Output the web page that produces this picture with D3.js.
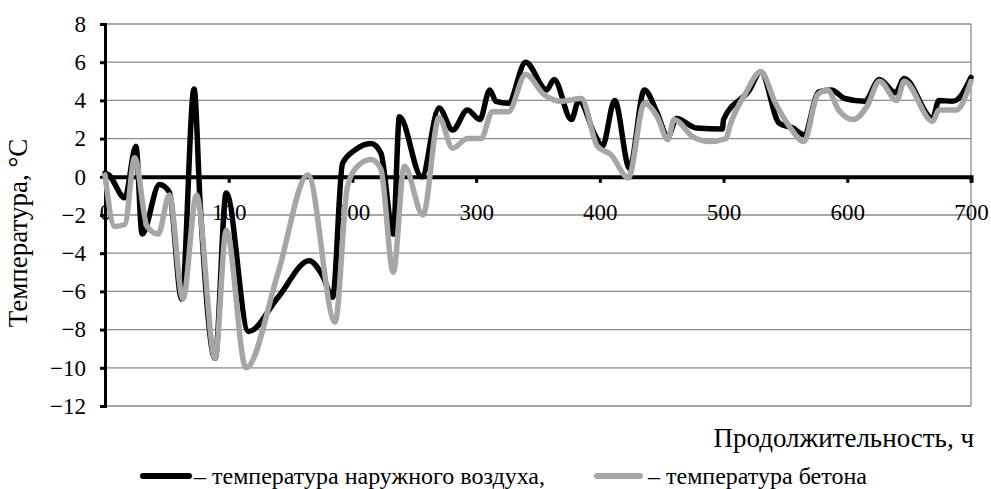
<!DOCTYPE html>
<html><head><meta charset="utf-8">
<script src="https://cdn.jsdelivr.net/npm/d3@7"></script>
<style>html,body{margin:0;padding:0;background:#fff;}svg{display:block;}</style>
</head><body>
<svg id="c" width="991" height="489"></svg>
<script>
// Data (hours, °C)
const hoursAir = [0,3,16,25,30,44,52,62,72,77,89,98,116,140,165,176,184,192,202,215,223,233,238,256,270,281,293,303,311,316,326,340,357,363,377,383,396,402,412,424,436,446,455,462,478,499,500,521,530,545,556,565,577,587,598,614,626,639,646,669,674,685,690,700];
const tempAir  = [0.2,0.1,-1.1,1.6,-3.0,-0.4,-0.8,-6.4,4.6,-1.5,-9.5,-0.85,-8.1,-6.3,-4.4,-5.2,-6.3,0.7,1.4,1.75,1.25,-3.0,3.15,0.0,3.6,2.45,3.5,3.0,4.55,3.95,3.85,6.0,4.55,5.1,3.0,4.0,2.2,1.6,4.0,0.45,4.55,3.4,2.1,3.05,2.55,2.5,3.0,4.55,5.5,2.8,2.55,2.2,4.45,4.55,4.1,3.95,5.1,4.4,5.15,3.05,4.0,3.95,4.1,5.2];
const hoursConcrete = [0,8,16,24,34,43,52,63,74,89,98,114,140,164,186,196,205,215,223,233,242,257,270,281,293,304,313,326,340,355,369,385,398,409,423,436,446,455,460,475,488,502,505,518,530,542,553,565,576,584,593,605,616,626,640,646,669,674,688,700];
const tempConcrete  = [0.1,-2.6,-2.5,1.0,-2.6,-3.0,-0.95,-6.4,-0.95,-9.5,-2.8,-10.0,-5.0,0.1,-7.6,-0.5,0.6,0.9,0.4,-5.0,0.55,-2.0,3.1,1.5,2.0,2.0,3.4,3.4,5.35,4.3,3.95,4.1,1.6,1.15,-0.05,3.85,3.2,1.95,3.0,2.1,1.85,2.0,2.65,4.4,5.5,3.85,2.65,1.85,4.3,4.55,3.5,3.0,3.7,5.0,4.0,5.0,2.9,3.5,3.5,5.0];
const xTicks = [0,100,200,300,400,500,600,700];
const yTicks = [-12,-10,-8,-6,-4,-2,0,2,4,6,8];
const yTitle = "Температура, °С";
const xTitle = "Продолжительность, ч";
const legendAir = "– температура наружного воздуха,";
const legendConcrete = "– температура бетона";

const FONT = "'Liberation Serif','Times New Roman',serif";
const svg = d3.select("#c");
const x = d3.scaleLinear().domain([0,700]).range([105,971]);
const y = d3.scaleLinear().domain([-12,8]).range([406,24]);

// gridlines
svg.append("g").selectAll("line").data(yTicks.filter(d=>d!==0)).join("line")
  .attr("x1",x(0)).attr("x2",x(700)).attr("y1",d=>y(d)).attr("y2",d=>y(d))
  .attr("stroke","#8a8a8a").attr("stroke-width",1.3);
// right border
svg.append("line").attr("x1",x(700)).attr("x2",x(700)).attr("y1",y(8)).attr("y2",y(-12))
  .attr("stroke","#8a8a8a").attr("stroke-width",1.3);

// y axis
const ya = svg.append("g").attr("transform",`translate(${x(0)},0)`)
  .call(d3.axisLeft(y).tickValues(yTicks).tickSize(5).tickPadding(14).tickFormat(d3.format("d")));
ya.select(".domain").attr("stroke","#000").attr("stroke-width",3);
ya.selectAll(".tick line").attr("stroke","#000").attr("stroke-width",3);
ya.selectAll("text").attr("font-family",FONT).attr("font-size",23).attr("fill","#000");

// x axis at y=0
const xa = svg.append("g").attr("transform",`translate(0,${y(0)})`)
  .call(d3.axisBottom(x).tickValues(xTicks).tickSize(6).tickPadding(21).tickFormat(d3.format("d")));
xa.select(".domain").attr("stroke","#000").attr("stroke-width",4);
xa.selectAll(".tick line").attr("stroke","#000").attr("stroke-width",3);
xa.selectAll("text").attr("font-family",FONT).attr("font-size",23).attr("fill","#000");

// lines
const line = d3.line().x(d=>x(d[0])).y(d=>y(d[1])).curve(d3.curveMonotoneX);
const airPts = hoursAir.map((h,i)=>[h,tempAir[i]]);
const conPts = hoursConcrete.map((h,i)=>[h,tempConcrete[i]]);
svg.append("path").attr("d",line(airPts)).attr("fill","none").attr("stroke","#000")
  .attr("stroke-width",5.5).attr("stroke-linejoin","round").attr("stroke-linecap","round");
svg.append("path").attr("d",line(conPts)).attr("fill","none").attr("stroke","#a6a6a6")
  .attr("stroke-width",5.5).attr("stroke-linejoin","round").attr("stroke-linecap","round");

// titles
svg.append("text").attr("transform","translate(27,233) rotate(-90)").attr("text-anchor","middle")
  .attr("font-family",FONT).attr("font-size",27).text(yTitle);
svg.append("text").attr("x",974).attr("y",447).attr("text-anchor","end")
  .attr("font-family",FONT).attr("font-size",27).text(xTitle);

// legend
svg.append("line").attr("x1",143).attr("x2",189).attr("y1",476).attr("y2",476)
  .attr("stroke","#000").attr("stroke-width",6).attr("stroke-linecap","round");
svg.append("text").attr("x",194).attr("y",484).attr("font-family",FONT).attr("font-size",24).text(legendAir);
svg.append("line").attr("x1",597).attr("x2",640).attr("y1",476).attr("y2",476)
  .attr("stroke","#a6a6a6").attr("stroke-width",6).attr("stroke-linecap","round");
svg.append("text").attr("x",648).attr("y",484).attr("font-family",FONT).attr("font-size",24).text(legendConcrete);
</script>
</body></html>
